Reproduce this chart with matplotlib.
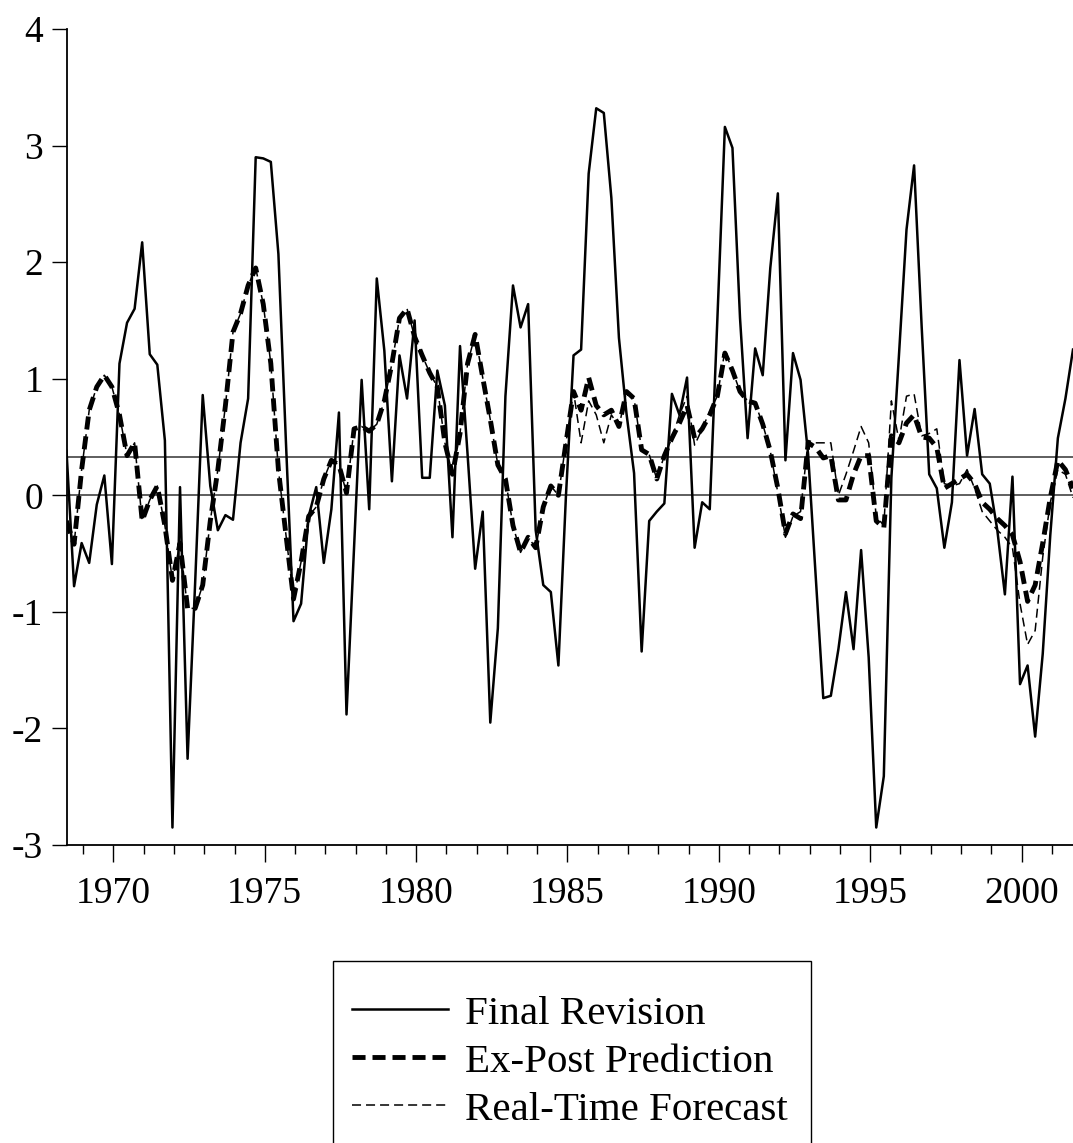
import numpy as np
import matplotlib
matplotlib.use("Agg")
import matplotlib.pyplot as plt
from matplotlib.lines import Line2D
from matplotlib.patches import Rectangle

plt.rcParams['font.family'] = ['Liberation Serif', 'DejaVu Serif']
plt.rcParams['axes.unicode_minus'] = False
plt.rcParams['lines.scale_dashes'] = False

# quarterly observations, first quarter 1968Q3
start_year = 1968.45
final_revision = [
    0.38, -0.78, -0.41, -0.58, -0.08, 0.17, -0.59, 1.13, 1.48, 1.60,
    2.17, 1.21, 1.12, 0.47, -2.85, 0.07, -2.26, -0.75, 0.86, 0.08,
    -0.30, -0.17, -0.21, 0.45, 0.83, 2.90, 2.89, 2.86, 2.07, 0.45,
    -1.08, -0.93, -0.18, 0.07, -0.58, -0.12, 0.71, -1.88, -0.45, 0.99,
    -0.12, 1.86, 1.24, 0.12, 1.20, 0.83, 1.50, 0.15, 0.15, 1.07,
    0.77, -0.36, 1.28, 0.35, -0.63, -0.14, -1.95, -1.14, 0.85, 1.80,
    1.44, 1.64, -0.30, -0.77, -0.83, -1.46, 0.00, 1.20, 1.25, 2.76,
    3.32, 3.28, 2.55, 1.35, 0.70, 0.19, -1.34, -0.22, -0.14, -0.07,
    0.87, 0.69, 1.01, -0.45, -0.06, -0.12, 1.50, 3.16, 2.98, 1.52,
    0.49, 1.26, 1.03, 1.95, 2.59, 0.30, 1.22, 0.99, 0.35, -0.70,
    -1.74, -1.72, -1.32, -0.83, -1.32, -0.47, -1.39, -2.85, -2.41, 0.15,
    1.20, 2.28, 2.83, 1.45, 0.18, 0.06, -0.45, -0.06, 1.16, 0.34,
    0.74, 0.18, 0.10, -0.30, -0.85, 0.16, -1.62, -1.46, -2.07, -1.36,
    -0.34, 0.49, 0.83, 1.25,
]
ex_post = [
    -0.22, -0.42, 0.22, 0.73, 0.93, 1.03, 0.93, 0.69, 0.34, 0.45,
    -0.22, -0.04, 0.08, -0.26, -0.73, -0.41, -0.97, -0.97, -0.77, -0.22,
    0.22, 0.77, 1.40, 1.56, 1.80, 1.95, 1.64, 1.13, 0.22, -0.34,
    -0.89, -0.57, -0.18, -0.10, 0.14, 0.30, 0.26, 0.02, 0.57, 0.59,
    0.55, 0.61, 0.81, 1.13, 1.52, 1.60, 1.36, 1.20, 1.05, 0.93,
    0.45, 0.18, 0.53, 1.13, 1.38, 1.01, 0.65, 0.26, 0.14, -0.26,
    -0.49, -0.36, -0.45, -0.10, 0.08, 0.00, 0.45, 0.89, 0.73, 1.01,
    0.77, 0.69, 0.73, 0.59, 0.89, 0.83, 0.39, 0.35, 0.14, 0.34,
    0.49, 0.62, 0.77, 0.49, 0.57, 0.69, 0.85, 1.22, 1.07, 0.89,
    0.81, 0.79, 0.61, 0.38, 0.06, -0.33, -0.16, -0.20, 0.45, 0.41,
    0.32, 0.34, -0.04, -0.04, 0.18, 0.34, 0.34, -0.22, -0.28, 0.51,
    0.45, 0.62, 0.69, 0.50, 0.49, 0.41, 0.06, 0.10, 0.14, 0.18,
    0.10, -0.06, -0.12, -0.20, -0.26, -0.34, -0.57, -0.91, -0.77, -0.41,
    -0.02, 0.30, 0.22, 0.06,
]
real_time_late = [
    0.89, 0.45, 0.81, 0.69, 0.45, 0.69, 0.59, 0.89, 0.83, 0.39,
    0.35, 0.14, 0.34, 0.49, 0.69, 0.85, 0.43, 0.57, 0.72, 0.85,
    1.24, 1.07, 0.89, 0.81, 0.79, 0.61, 0.38, 0.02, -0.36, -0.18,
    -0.14, 0.47, 0.45, 0.45, 0.45, 0.00, 0.18, 0.38, 0.59, 0.45,
    -0.18, -0.26, 0.81, 0.47, 0.85, 0.87, 0.51, 0.53, 0.57, 0.10,
    0.08, 0.10, 0.22, 0.06, -0.14, -0.22, -0.30, -0.36, -0.45, -0.93,
    -1.28, -1.16, -0.53, -0.06, 0.22, 0.18, -0.02,
]
real_time = ex_post[:len(ex_post) - len(real_time_late)] + real_time_late
mean_line = 0.33

labels = ["Final Revision", "Ex-Post Prediction", "Real-Time Forecast"]
year_ticks = [1970, 1975, 1980, 1985, 1990, 1995, 2000]
y_ticks = [-3, -2, -1, 0, 1, 2, 3, 4]

n = len(final_revision)
t = start_year + 0.25 * np.arange(n)

W, H = 1073, 1143
fig = plt.figure(figsize=(W / 100, H / 100), dpi=100)
ax = fig.add_axes([66.5 / W, 1 - 845 / H, 1 - 66.5 / W, (845 - 29) / H])

ax.axhline(0, color='#333333', lw=1.1, zorder=1)
ax.axhline(mean_line, color='#333333', lw=1.1, zorder=1)

thin_ls = (0, (6.5, 3.6))
thick_ls = (0, (9.4, 5.0))
ax.plot(t, real_time, color='black', lw=1.1, linestyle=thin_ls, zorder=2)
ax.plot(t, ex_post, color='black', lw=3.5, linestyle=thick_ls, zorder=3)
ax.plot(t, final_revision, color='black', lw=1.8, zorder=4)

ax.set_xlim(t[0], t[-1])
ax.set_ylim(-3, 4)
ax.set_yticks(y_ticks)
ax.set_yticklabels([str(v) for v in y_ticks])
ax.set_xticks(year_ticks)
ax.set_xticklabels([str(v) for v in year_ticks])
ax.set_xticks(np.arange(1969, 2002), minor=True)

for s in ['top', 'right']:
    ax.spines[s].set_visible(False)
for s in ['left', 'bottom']:
    ax.spines[s].set_linewidth(1.3)

ax.tick_params(axis='y', which='major', direction='out', length=10.8, width=1.0,
               labelsize=27, pad=6)
ax.tick_params(axis='x', which='major', direction='out', length=12.4, width=1.0,
               labelsize=27, pad=10)
ax.tick_params(axis='x', which='minor', direction='out', length=6.2, width=1.0)

handles = [
    Line2D([], [], color='black', lw=1.8),
    Line2D([], [], color='black', lw=3.5, linestyle=thick_ls),
    Line2D([], [], color='black', lw=1.1, linestyle=thin_ls),
]
leg = fig.legend(handles, labels, loc='upper left',
                 bbox_to_anchor=(352 / W, 1 - 995 / H), fontsize=29.5,
                 frameon=False, handlelength=2.34,
                 handletextpad=0.41, labelspacing=0.25, borderpad=0.0,
                 borderaxespad=0)
# legend frame (bottom edge runs past the figure)
fig.patches.append(Rectangle((333 / W, 1 - 1160 / H), (811 - 333) / W, (1160 - 961) / H,
                             transform=fig.transFigure, fill=False,
                             edgecolor='black', linewidth=1.0))

fig.savefig("out.png", dpi=100)
